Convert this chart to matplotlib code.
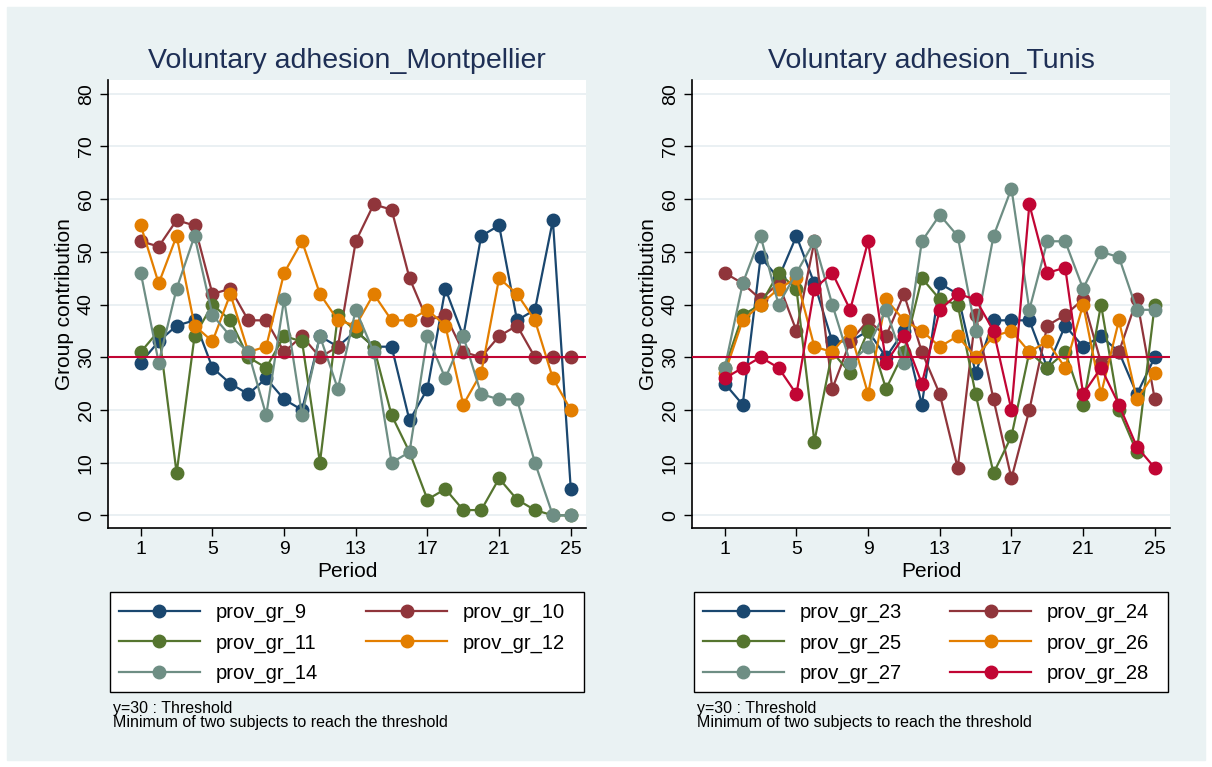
import matplotlib
matplotlib.use("Agg")
import matplotlib.pyplot as plt
from matplotlib.patches import Rectangle

plt.rcParams['font.family'] = ['Liberation Sans', 'DejaVu Sans']

periods = list(range(1, 26))

# Montpellier groups
prov_gr_9 = [29, 33, 36, 37, 28, 25, 23, 26, 22, 20, 34, 32, 35, 32, 32, 18, 24, 43, 34, 53, 55, 37, 39, 56, 5]
prov_gr_10 = [52, 51, 56, 55, 42, 43, 37, 37, 31, 34, 30, 32, 52, 59, 58, 45, 37, 38, 31, 30, 34, 36, 30, 30, 30]
prov_gr_11 = [31, 35, 8, 34, 40, 37, 30, 28, 34, 33, 10, 38, 35, 32, 19, 12, 3, 5, 1, 1, 7, 3, 1, 0, 0]
prov_gr_12 = [55, 44, 53, 36, 33, 42, 31, 32, 46, 52, 42, 37, 36, 42, 37, 37, 39, 36, 21, 27, 45, 42, 37, 26, 20]
prov_gr_14 = [46, 29, 43, 53, 38, 34, 31, 19, 41, 19, 34, 24, 39, 31, 10, 12, 34, 26, 34, 23, 22, 22, 10, 0, 0]

# Tunis groups
prov_gr_23 = [25, 21, 49, 45, 53, 44, 33, 33, 35, 30, 35, 21, 44, 42, 27, 37, 37, 37, 28, 36, 32, 34, 31, 23, 30]
prov_gr_24 = [46, 44, 41, 44, 35, 52, 24, 33, 37, 34, 42, 31, 23, 9, 38, 22, 7, 20, 36, 38, 41, 29, 31, 41, 22]
prov_gr_25 = [28, 38, 40, 46, 43, 14, 31, 27, 35, 24, 31, 45, 41, 40, 23, 8, 15, 31, 28, 31, 21, 40, 20, 12, 40]
prov_gr_26 = [27, 37, 40, 43, 45, 32, 31, 35, 23, 41, 37, 35, 32, 34, 30, 34, 35, 31, 33, 28, 40, 23, 37, 22, 27]
prov_gr_27 = [28, 44, 53, 40, 46, 52, 40, 29, 32, 39, 29, 52, 57, 53, 35, 53, 62, 39, 52, 52, 43, 50, 49, 39, 39]
prov_gr_28 = [26, 28, 30, 28, 23, 43, 46, 39, 52, 29, 34, 25, 39, 42, 41, 35, 20, 59, 46, 47, 23, 28, 21, 13, 9]

threshold = 30
xticks = [1, 5, 9, 13, 17, 21, 25]
yticks = [0, 10, 20, 30, 40, 50, 60, 70, 80]

# stata s2color
colors = ['#1A476F', '#90353B', '#55752F', '#E37E00', '#6E8E84', '#C10534']
bg = '#EAF2F3'
grid_c = '#E6EEF1'
title_c = '#1E2F55'

W, H = 1212, 767
fig = plt.figure(figsize=(W / 100, H / 100), dpi=100, facecolor='white')
fig.patches.append(Rectangle((7 / W, 7 / H), 1 - 14 / W, 1 - 14 / H,
                             transform=fig.transFigure, color=bg, zorder=-10))


def panel(x0, title, series, names, legend_order, box_w):
    ax = fig.add_axes([x0 / W, 1 - 528 / H, 478 / W, 448 / H])
    ax.set_facecolor('white')
    for v in yticks:
        ax.axhline(v, color=grid_c, lw=1.2, zorder=0)
    for i, (vals, name) in enumerate(zip(series, names)):
        ax.plot(periods, vals, color=colors[i], lw=1.6, marker='o', ms=9,
                label=name, zorder=2, clip_on=False)
    ax.axhline(threshold, color=colors[5], lw=1.5, zorder=3)
    ax.set_xlim(-0.83, 25.85)
    ax.set_ylim(-2.4, 82.6)
    ax.set_xticks(xticks)
    ax.set_yticks(yticks)
    ax.set_yticklabels([str(v) for v in yticks], rotation=90, va='center')
    ax.tick_params(labelsize=14, length=6, width=1, direction='out', colors='black')
    for s in ['top', 'right']:
        ax.spines[s].set_visible(False)
    for s in ['left', 'bottom']:
        ax.spines[s].set_linewidth(1.2)
    ax.set_xlabel('Period', fontsize=15, labelpad=3)
    ax.set_ylabel('Group contribution', fontsize=15, labelpad=3)
    ax.set_title(title, fontsize=20.5, color=title_c, pad=9)

    # legend box like stata: wide frame, entries packed to the left
    bx = x0 + 2
    fig.patches.append(Rectangle((bx / W, 1 - 692 / H), box_w / W, 100 / H,
                                 transform=fig.transFigure, facecolor='white',
                                 edgecolor='black', lw=1.0, zorder=1))
    h, l = ax.get_legend_handles_labels()
    hh = [h[i] for i in legend_order]
    ll = [l[i] for i in legend_order]
    fig.legend(hh, ll, ncol=2, loc='upper left', frameon=False,
               bbox_to_anchor=((bx + 9) / W, 1 - 603 / H),
               fontsize=14.5, handlelength=4.0, handletextpad=0.8,
               labelspacing=0.56, borderpad=0, borderaxespad=0,
               columnspacing=2.4)
    fig.text((x0 + 5) / W, 1 - 708 / H, 'y=30 : Threshold', fontsize=11.5, va='center')
    fig.text((x0 + 5) / W, 1 - 723 / H, 'Minimum of two subjects to reach the threshold',
             fontsize=11.5, va='center')
    return ax


panel(108, 'Voluntary adhesion_Montpellier',
      [prov_gr_9, prov_gr_10, prov_gr_11, prov_gr_12, prov_gr_14],
      ['prov_gr_9', 'prov_gr_10', 'prov_gr_11', 'prov_gr_12', 'prov_gr_14'],
      [0, 2, 4, 1, 3], 474)
panel(692, 'Voluntary adhesion_Tunis',
      [prov_gr_23, prov_gr_24, prov_gr_25, prov_gr_26, prov_gr_27, prov_gr_28],
      ['prov_gr_23', 'prov_gr_24', 'prov_gr_25', 'prov_gr_26', 'prov_gr_27', 'prov_gr_28'],
      [0, 2, 4, 1, 3, 5], 474)

fig.savefig('out.png', dpi=100, facecolor=fig.get_facecolor())
